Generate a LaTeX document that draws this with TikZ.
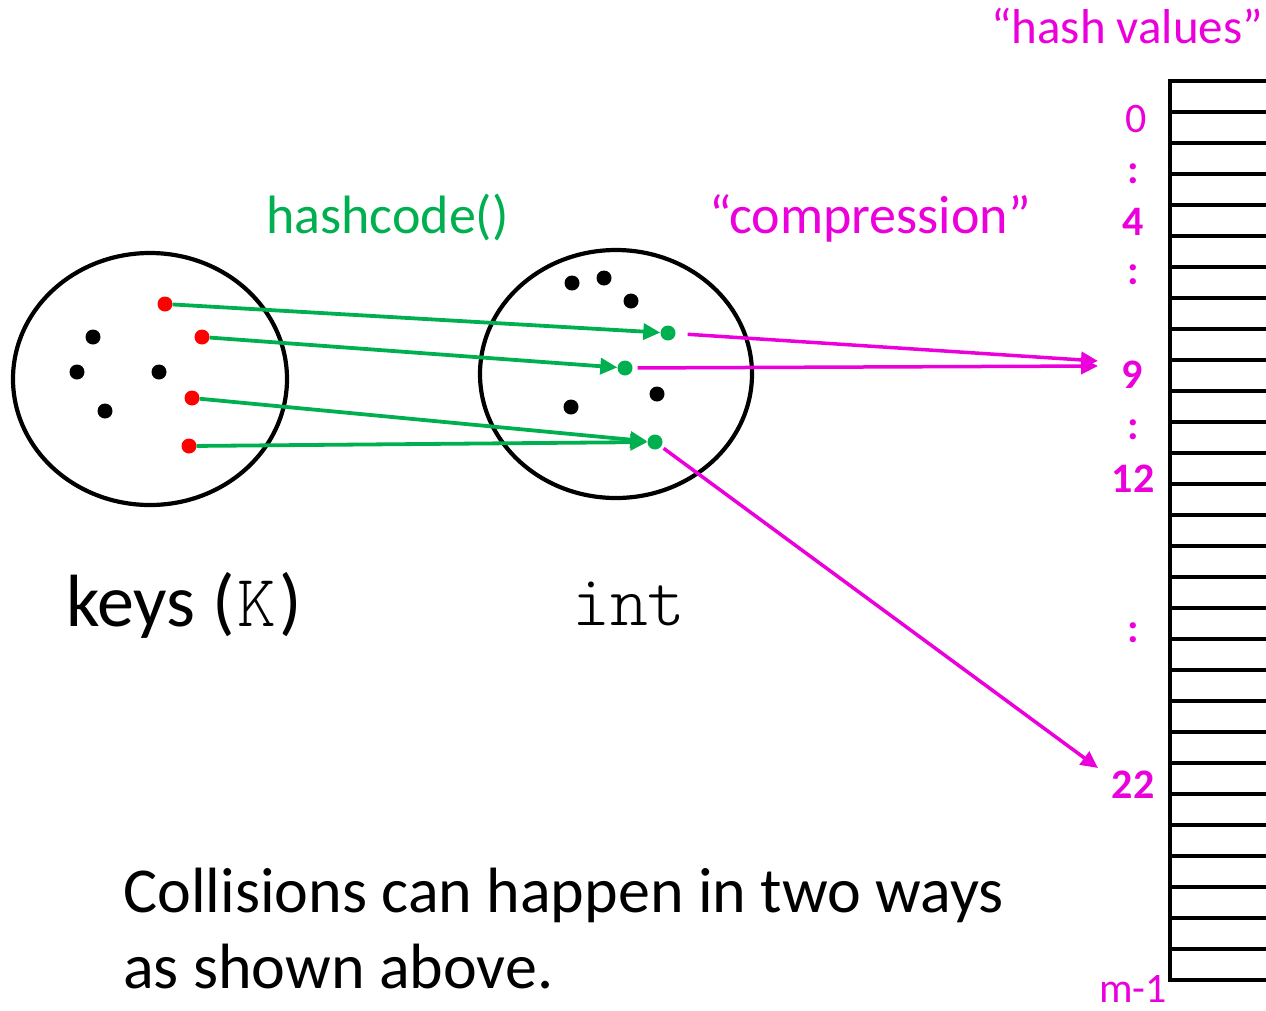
\documentclass[tikz,border=0pt]{standalone}
\usepackage{fontspec}
\setmainfont{Carlito}
\newfontfamily\monofam{Latin Modern Mono Light}
\usetikzlibrary{arrows.meta}
\definecolor{hgreen}{RGB}{0,176,80}
\definecolor{hmag}{RGB}{235,0,220}
\definecolor{hred}{RGB}{255,0,0}
\begin{document}
\begin{tikzpicture}[x=1pt,y=-1pt,
  dot/.style={circle,fill=black,inner sep=0pt,minimum size=15pt},
  keydot/.style={dot,fill=hred},
  intdot/.style={dot,fill=hgreen},
  setshape/.style={draw=black,line width=4.2pt},
  hasharrow/.style={draw=hgreen,line width=3.8pt,-{Triangle[length=17pt,width=16pt]}},
  comparrow/.style={draw=hmag,line width=3.5pt,-{Triangle[length=17pt,width=16pt]}},
  slot/.style={line width=4pt},
  idx/.style={text=hmag,inner sep=0pt,font=\fontsize{42}{48}\selectfont},
  bidx/.style={text=hmag,inner sep=0pt,font=\fontsize{42}{48}\selectfont\bfseries},
  label/.style={inner sep=0pt,anchor=base west},
]
\useasboundingbox (0,0) rectangle (1266,1010);

% the two sets
\draw[setshape] (150,379) ellipse [x radius=137, y radius=126];
\draw[setshape] (616,374) ellipse [x radius=136, y radius=124];

% keys
\node[dot] (k1) at (93,337) {};
\node[dot] (k2) at (77,372) {};
\node[dot] (k3) at (159,372) {};
\node[dot] (k4) at (105,411) {};
\node[keydot] (r1) at (165,304) {};
\node[keydot] (r2) at (202,337) {};
\node[keydot] (r3) at (192,398) {};
\node[keydot] (r4) at (189,446) {};

% integers
\node[dot] (n1) at (572,283) {};
\node[dot] (n2) at (604,278) {};
\node[dot] (n3) at (631,301) {};
\node[dot] (n4) at (571,407) {};
\node[dot] (n5) at (657,394) {};
\node[intdot] (g1) at (668,333) {};
\node[intdot] (g2) at (625,368) {};
\node[intdot] (g3) at (655,442) {};

% hashcode() arrows
\draw[hasharrow] (r1) -- (g1);
\draw[hasharrow] (r2) -- (g2);
\draw[hasharrow] (r3) -- (g3);
\draw[hasharrow] (r4) -- (g3);

% table of buckets
\draw[slot] (1170,79) -- (1170,982);
\foreach \i in {0,...,29}
  \draw[slot] (1168,{81+31*\i}) -- (1266,{81+31*\i});

% bucket indices
\node[idx,anchor=base] (i0) at (1136,132) {0};
\node[bidx] (d1) at (1133,174) {:};
\node[bidx,anchor=base] (i4) at (1133,235) {4};
\node[bidx] (d2) at (1133,275) {:};
\node[bidx,anchor=base] (i9) at (1132,388) {9};
\node[bidx] (d3) at (1133,430) {:};
\node[bidx,anchor=base] (i12) at (1133,492) {12};
\node[bidx] (d4) at (1133,633) {:};
\node[bidx,anchor=base] (i22) at (1133,798) {22};
\node[idx,anchor=base] (im) at (1133,1002) {m-1};

% compression arrows
\coordinate (t9a) at (1098,361);
\coordinate (t9b) at (1098,366);
\coordinate (t22) at (1098,768);
\draw[comparrow,shorten <=12pt] (g1) -- (t9a);
\draw[comparrow,shorten <=5pt] (g2) -- (t9b);
\draw[comparrow,shorten <=3pt] (g3) -- (t22);

% captions
\node[label,text=hmag,font=\fontsize{49}{56}\selectfont] (hv) at (991,43) {“hash values”};
\node[label,text=hgreen,font=\fontsize{54}{60}\selectfont] (hc) at (266,233) {hashcode()};
\node[label,text=hmag,font=\fontsize{54}{60}\selectfont] (cp) at (709,233) {“compression”};
\node[label,font=\fontsize{74}{80}\selectfont] (ks) at (66,626) {keys (\makebox[45pt]{\monofam K})};
\node[label,font=\fontsize{72}{78}\selectfont\monofam] (it) at (572,625) {int};
\node[label,font=\fontsize{64}{76}\selectfont] (c1) at (123,912) {Collisions can happen in two ways};
\node[label,font=\fontsize{64}{76}\selectfont] (c2) at (123,988) {as shown above.};
\end{tikzpicture}
\end{document}
